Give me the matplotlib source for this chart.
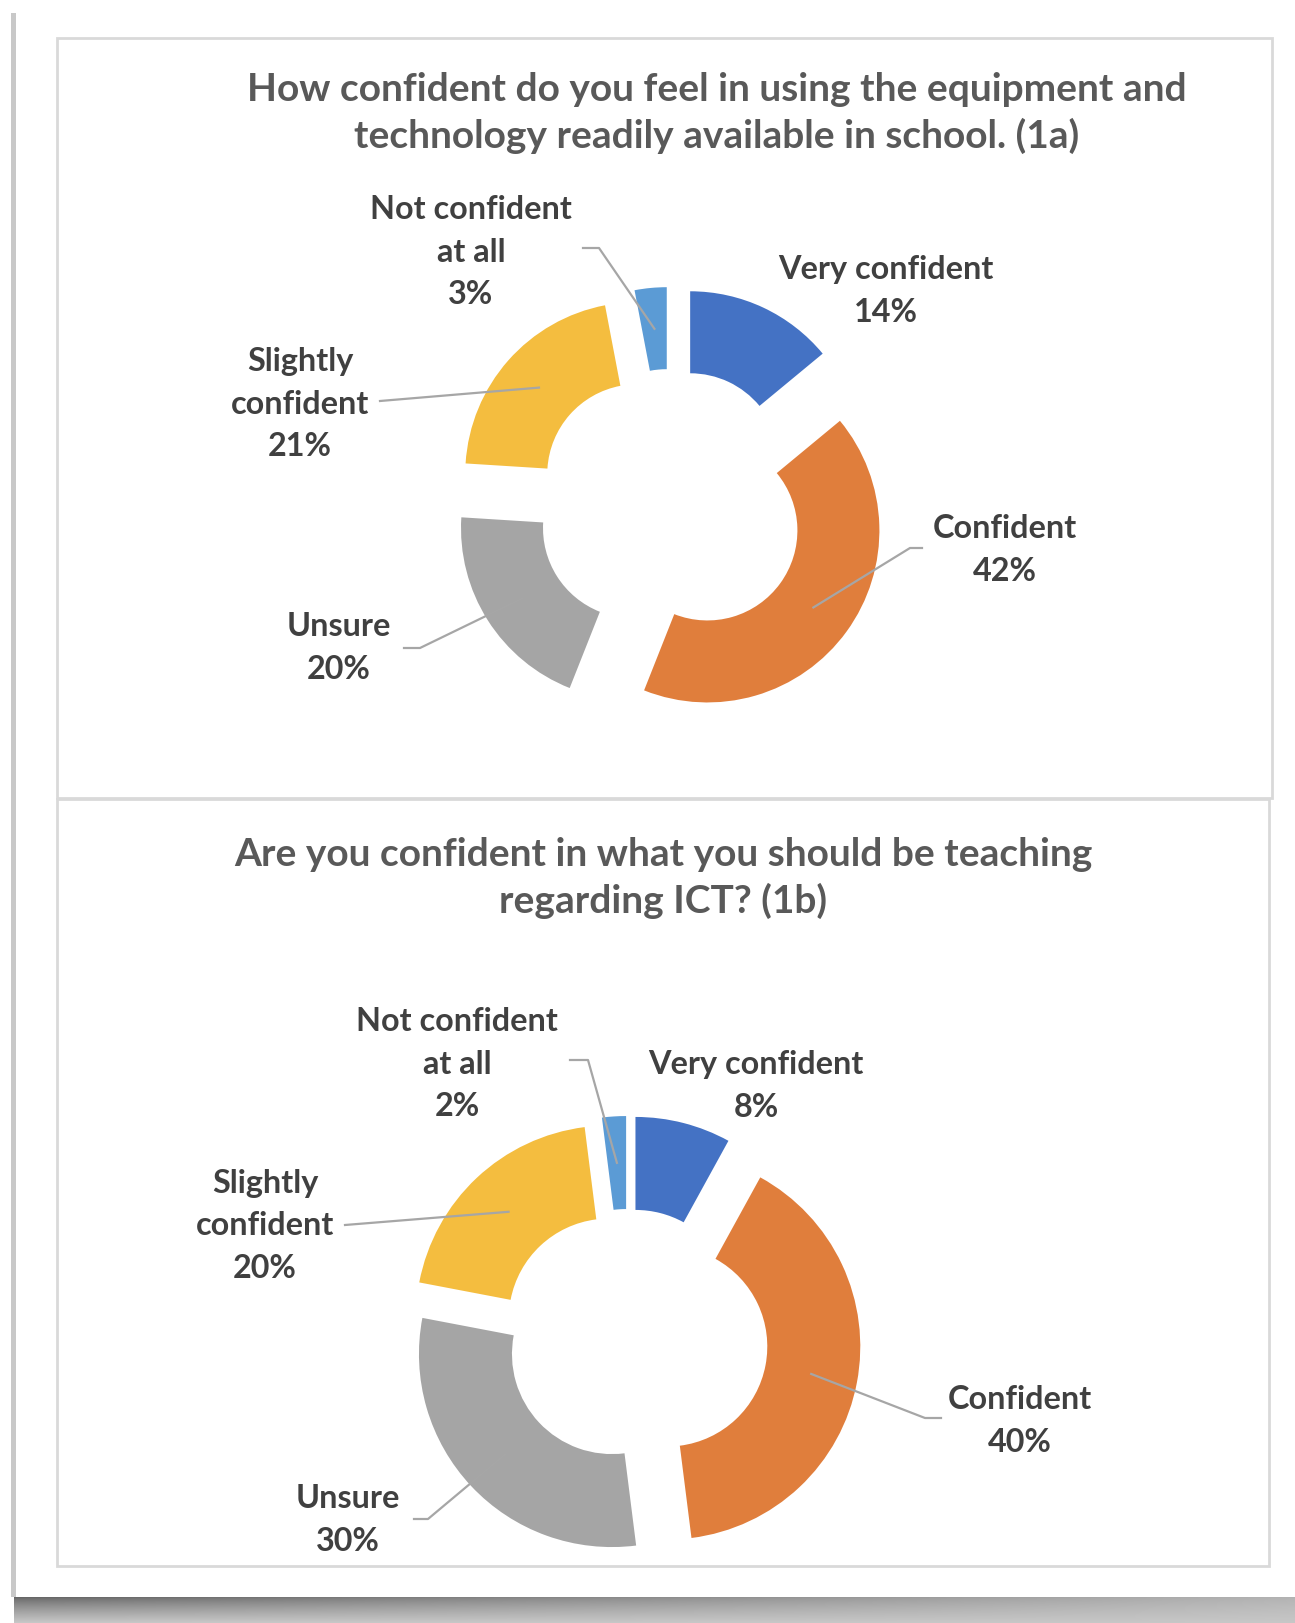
import matplotlib.pyplot as plt
import numpy as np
from matplotlib.patches import Rectangle

W, H = 1295, 1624

categories = ['Very confident', 'Confident', 'Unsure', 'Slightly\nconfident', 'Not confident\nat all']
colors = ['#4472C4', '#E07E3C', '#A5A5A5', '#F4BD3F', '#5B9BD5']

title_1a = 'How confident do you feel in using the equipment and\ntechnology readily available in school. (1a)'
values_1a = [14, 42, 20, 21, 3]

title_1b = 'Are you confident in what you should be teaching\nregarding ICT? (1b)'
values_1b = [8, 40, 30, 20, 2]

plt.rcParams['font.family'] = ['Lato', 'DejaVu Sans']

fig = plt.figure(figsize=(W / 100, H / 100), dpi=100)
ax = fig.add_axes([0, 0, 1, 1])


def Y(y):
    # image rows go down, data goes up
    return H - y


# paper + shadow
grad_x = np.linspace(0, 1, 200)
grad_y = np.linspace(0, 1, 30)[:, None]
dark = 0.40 + 0.30 * grad_x[None, :]
shade = dark + (0.78 - dark) * grad_y ** 0.8
ax.imshow(np.dstack([shade] * 3), extent=(14, W, Y(H), Y(1598)), aspect='auto', zorder=0)
ax.add_patch(Rectangle((11, Y(1598)), 6, 1598 - 14, color='#C8C8C8', lw=0, zorder=0))
ax.add_patch(Rectangle((16, Y(1598)), W - 24, 1598 - 12, facecolor='white', lw=0, zorder=0))

# chart boxes
ax.add_patch(Rectangle((57, Y(799)), 1272 - 57, 799 - 39, facecolor='white', edgecolor='#D9D9D9', lw=2, zorder=0))
ax.add_patch(Rectangle((57, Y(1567)), 1269 - 57, 1567 - 800, facecolor='white', edgecolor='#D9D9D9', lw=2, zorder=0))


def donut(values, title, title_xy, center, radius, ring, explode, label_xy, leaders):
    wedges, _ = ax.pie(values, colors=colors, startangle=90, counterclock=False,
                       center=(center[0], Y(center[1])), radius=radius, explode=explode,
                       wedgeprops=dict(width=ring, linewidth=0))
    ax.text(title_xy[0], Y(title_xy[1]), title, ha='center', va='center', fontsize=28,
            fontweight='bold', color='#595959', linespacing=1.38)
    for w, val, cat, (tx, ty), path in zip(wedges, values, categories, label_xy, leaders):
        ax.text(tx, Y(ty), f'{cat}\n{val}%', ha='center', va='center', fontsize=23.3,
                fontweight='bold', color='#404040', linespacing=1.58, zorder=4)
        if path:
            ang = np.deg2rad((w.theta1 + w.theta2) / 2)
            mid_r = radius - ring / 2
            px = w.center[0] + mid_r * np.cos(ang)
            py = w.center[1] + mid_r * np.sin(ang)
            xs = [p[0] for p in path] + [px]
            ys = [Y(p[1]) for p in path] + [py]
            ax.plot(xs, ys, color='#A6A6A6', lw=1.6, zorder=3)


donut(values_1a, title_1a, (717, 113), (671, 505), 172, 82, [45] * 5,
      [(886, 291), (1005, 550), (339, 648), (300, 404), (471, 252)],
      [None, [(922, 549), (910, 549)], [(404, 649), (420, 649)], [(380, 402)],
       [(583, 249), (599, 249)]])

donut(values_1b, title_1b, (663, 878), (628, 1340), 193, 93, [30, 40, 22, 28, 30],
      [(756, 1086), (1020, 1421), (348, 1520), (265, 1226), (457, 1064)],
      [None, [(941, 1419), (925, 1419)], [(414, 1520), (428, 1520)], [(345, 1226)],
       [(570, 1061), (588, 1061)]])

ax.set_xlim(0, W)
ax.set_ylim(0, H)
ax.set_aspect('auto')
ax.axis('off')

fig.savefig('out.png', dpi=100)
